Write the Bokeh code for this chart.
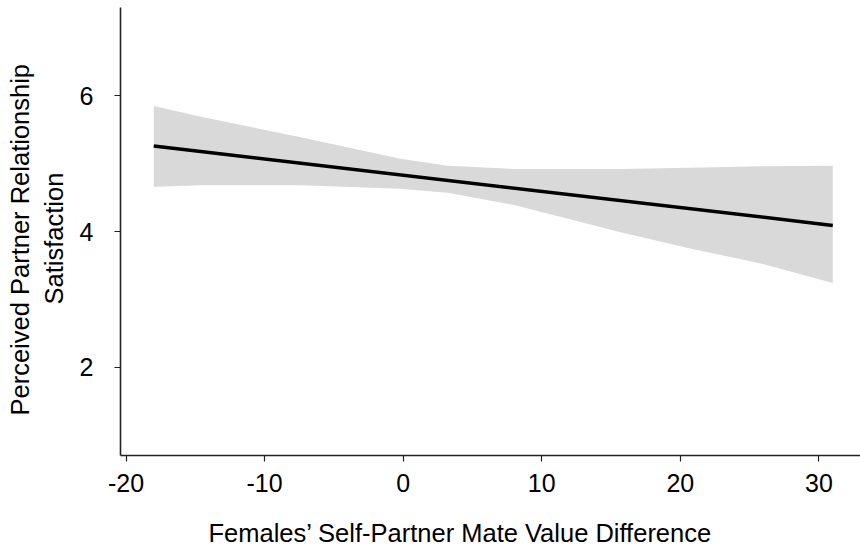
from bokeh.plotting import figure
from bokeh.models import FixedTicker, Title, LinearAxis
from bokeh.embed import file_html
from bokeh.resources import INLINE

# Fitted regression line (endpoints of the observed range)
line_x = [-18, 31]
line_y = [5.26, 4.09]

# Confidence band around the fit
band_x = [-18, -14.6, -7.4, -0.2, 3.2, 8.0, 12.8, 15.7, 20.7, 25.8, 31]
band_upper = [5.85, 5.69, 5.39, 5.07, 4.97, 4.92, 4.92, 4.92, 4.94, 4.96, 4.97]
band_lower = [4.66, 4.68, 4.68, 4.63, 4.57, 4.39, 4.14, 3.99, 3.75, 3.53, 3.24]

x_ticks = [-20, -10, 0, 10, 20, 30]
y_ticks = [2, 4, 6]

x_title = "Females\u2019 Self-Partner Mate Value Difference"
y_title_lines = ["Perceived Partner Relationship", "Satisfaction"]

FONT = "Liberation Sans"

p = figure(
    width=860, height=552,
    x_range=(-20.4, 33.0), y_range=(0.7, 7.3),
    output_backend="svg", toolbar_location=None,
    min_border_left=120, min_border_right=0,
    min_border_top=7, min_border_bottom=97,
)
p.outline_line_color = None
p.xgrid.visible = False
p.ygrid.visible = False
p.background_fill_color = "white"
p.border_fill_color = "white"

p.varea(x=band_x, y1=band_lower, y2=band_upper, fill_color="#d9d9d9", fill_alpha=1.0)
p.line(x=line_x, y=line_y, line_color="black", line_width=3.5)

for ax, ticks in ((p.xaxis[0], x_ticks), (p.yaxis[0], y_ticks)):
    ax.ticker = FixedTicker(ticks=ticks)
    # plain hyphen-minus labels
    ax.major_label_overrides = {t: str(t) for t in ticks}
    ax.minor_tick_line_color = None
    ax.axis_line_color = "#222222"
    ax.axis_line_width = 1.6
    ax.major_tick_line_color = "#222222"
    ax.major_tick_line_width = 1.2
    ax.major_tick_in = 0
    ax.major_tick_out = 6
    ax.major_label_text_font = FONT
    ax.major_label_text_font_size = "25px"
    ax.major_label_text_color = "black"

p.xaxis.major_label_standoff = 12
p.yaxis.major_label_standoff = 21

# invisible axis that only reserves a gap between the tick labels and the x title
gap = LinearAxis(
    ticker=FixedTicker(ticks=[0]), major_label_overrides={0: ""},
    axis_line_color=None, major_tick_line_color=None, minor_tick_line_color=None,
    major_tick_in=0, major_tick_out=18, minor_tick_in=0, minor_tick_out=0,
    major_label_standoff=0, major_label_text_font_size="1px",
)
p.add_layout(gap, "below")


def side_title(text, offset, standoff, valign):
    # align="left" makes offset act as the margin from the panel's start
    return Title(
        text=text, align="left", vertical_align=valign,
        offset=offset, standoff=standoff,
        text_font=FONT, text_font_size="25.5px", text_font_style="normal",
        text_color="black",
    )


p.add_layout(side_title(x_title, 88, 9, "bottom"), "below")
p.add_layout(side_title(y_title_lines[1], 151, 13, "top"), "left")
p.add_layout(side_title(y_title_lines[0], 40, 0, "bottom"), "left")

open("out.html", "w").write(file_html(p, INLINE))
